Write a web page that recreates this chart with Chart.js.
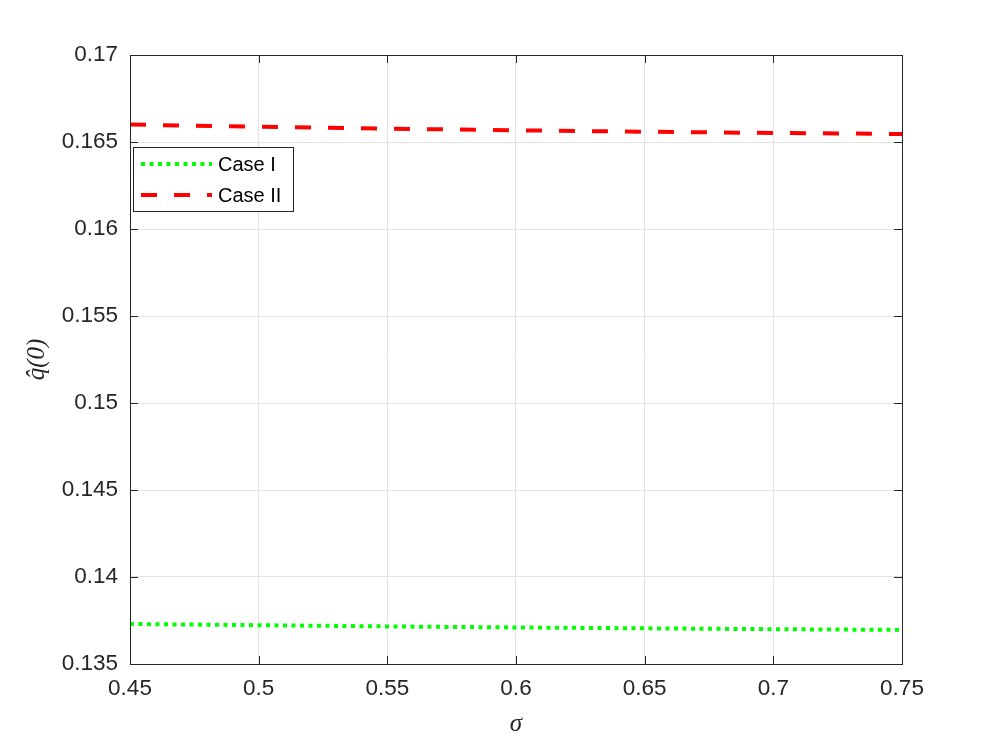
<!DOCTYPE html>
<html>
<head>
<meta charset="utf-8">
<script src="https://cdn.jsdelivr.net/npm/chart.js@4.4.1/dist/chart.umd.min.js"></script>
<style>
  html, body { margin: 0; padding: 0; background: #fff; }
  #wrap { width: 996px; height: 747px; }
</style>
</head>
<body>
<div id="wrap"><canvas id="qChart" width="996" height="747"></canvas></div>
<script>
// sigma values and q-hat(0) for both cases
const sigma = [0.45, 0.5, 0.55, 0.6, 0.65, 0.7, 0.75];
const caseI = [0.13730, 0.13723, 0.13716, 0.13710, 0.13705, 0.13700, 0.13696];
const caseII = [0.16600, 0.16588, 0.16577, 0.16567, 0.16559, 0.16552, 0.16546];
const xTicks = [0.45, 0.5, 0.55, 0.6, 0.65, 0.7, 0.75];
const yTicks = [0.135, 0.14, 0.145, 0.15, 0.155, 0.16, 0.165, 0.17];

const axisColor = '#262626';
const tickFont = { family: 'Liberation Sans, Arial, sans-serif', size: 22.5 };

// box around the axes plus inward ticks on all four sides
const boxPlugin = {
    id: 'box',
    afterDatasetsDraw(chart) {
        const { ctx, chartArea: a, scales } = chart;
        ctx.save();
        ctx.strokeStyle = axisColor;
        ctx.lineWidth = 1;
        ctx.strokeRect(a.left + 0.5, a.top + 0.5, a.right - a.left, a.bottom - a.top);
        const len = 8;
        ctx.beginPath();
        xTicks.forEach(v => {
            const x = Math.round(scales.x.getPixelForValue(v)) + 0.5;
            ctx.moveTo(x, a.bottom); ctx.lineTo(x, a.bottom - len);
            ctx.moveTo(x, a.top); ctx.lineTo(x, a.top + len);
        });
        yTicks.forEach(v => {
            const y = Math.round(scales.y.getPixelForValue(v)) + 0.5;
            ctx.moveTo(a.left, y); ctx.lineTo(a.left + len, y);
            ctx.moveTo(a.right, y); ctx.lineTo(a.right - len, y);
        });
        ctx.stroke();
        ctx.restore();
    }
};

// legend box drawn in the upper left of the plot, like the original
const legendBox = {
    id: 'legendBox',
    afterDraw(chart) {
        const { ctx, chartArea: a } = chart;
        const x0 = a.left + 3, y0 = a.top + 92, w = 160, h = 64;
        ctx.save();
        ctx.fillStyle = '#fff';
        ctx.fillRect(x0, y0, w, h);
        ctx.strokeStyle = axisColor;
        ctx.lineWidth = 1;
        ctx.strokeRect(x0 + 0.5, y0 + 0.5, w, h);
        chart.data.datasets.forEach((ds, i) => {
            const y = y0 + 17 + i * 31;
            ctx.strokeStyle = ds.borderColor;
            ctx.lineWidth = 4;
            ctx.setLineDash(ds.borderDash);
            ctx.beginPath();
            ctx.moveTo(x0 + 8, y);
            ctx.lineTo(x0 + 79, y);
            ctx.stroke();
            ctx.setLineDash([]);
            ctx.fillStyle = '#000';
            ctx.font = '20px Liberation Sans, Arial, sans-serif';
            ctx.textBaseline = 'middle';
            ctx.fillText(ds.label, x0 + 85, y + 1);
        });
        ctx.restore();
    }
};

const qChart = new Chart(document.getElementById('qChart').getContext('2d'), {
    type: 'line',
    data: {
        datasets: [{
            label: 'Case I',
            data: sigma.map((s, i) => ({ x: s, y: caseI[i] })),
            borderColor: '#00ff00',
            borderWidth: 4,
            borderDash: [4, 4.5],
            pointRadius: 0,
            fill: false
        }, {
            label: 'Case II',
            data: sigma.map((s, i) => ({ x: s, y: caseII[i] })),
            borderColor: '#ff0000',
            borderWidth: 4,
            borderDash: [16, 17],
            pointRadius: 0,
            fill: false
        }]
    },
    options: {
        responsive: false,
        animation: false,
        layout: { padding: { top: 55, right: 94, left: 0, bottom: 0 } },
        plugins: {
            legend: { display: false },
            tooltip: { enabled: false }
        },
        scales: {
            x: {
                type: 'linear',
                min: 0.45,
                max: 0.75,
                afterBuildTicks: s => { s.ticks = xTicks.map(v => ({ value: v })); },
                afterFit: s => { s.height = 83; },
                grid: { color: '#e3e3e3', drawTicks: false },
                border: { display: false },
                ticks: {
                    color: axisColor,
                    font: tickFont,
                    padding: 11,
                    maxRotation: 0,
                    callback: v => String(Number(v.toFixed(3)))
                },
                title: {
                    display: true,
                    text: 'σ',
                    color: axisColor,
                    font: { family: 'Liberation Serif, serif', size: 25, style: 'italic' },
                    padding: { top: 4, bottom: 8 }
                }
            },
            y: {
                type: 'linear',
                min: 0.135,
                max: 0.17,
                afterBuildTicks: s => { s.ticks = yTicks.map(v => ({ value: v })); },
                afterFit: s => { s.width = 130; },
                grid: { color: '#e3e3e3', drawTicks: false },
                border: { display: false },
                ticks: {
                    color: axisColor,
                    font: tickFont,
                    padding: 12,
                    callback: v => String(Number(v.toFixed(3)))
                },
                title: {
                    display: true,
                    text: 'q̂(0)',
                    color: axisColor,
                    font: { family: 'Liberation Serif, serif', size: 25, style: 'italic' },
                    padding: { bottom: 0, top: 22 }
                }
            }
        }
    },
    plugins: [boxPlugin, legendBox]
});
</script>
</body>
</html>
